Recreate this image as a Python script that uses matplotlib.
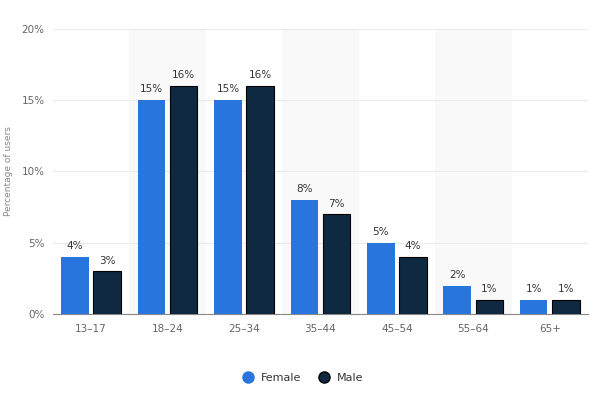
import matplotlib.pyplot as plt
from matplotlib.lines import Line2D
import numpy as np

categories = ["13-17", "18-24", "25-34", "35-44", "45-54", "55-64", "65+"]
female = [4, 15, 15, 8, 5, 2, 1]
male = [3, 16, 16, 7, 4, 1, 1]
yticks = [0, 5, 10, 15, 20]

c_f = "#2876dd"
c_m = "#0f2a40"

fig = plt.figure(figsize=(6, 3.95), dpi=100)
ax = fig.add_axes([0.088, 0.205, 0.892, 0.722])
x = np.arange(len(categories))
w = 0.36
gap = 0.03
for i in range(len(categories)):
    if i % 2 == 1:
        ax.axvspan(i - 0.5, i + 0.5, color="#f9f9f9", zorder=0, lw=0)
ax.bar(x - w/2 - gap, female, w, color=c_f, zorder=3)
ax.bar(x + w/2 + gap, male, w, color=c_m, edgecolor="black", linewidth=0.8, zorder=3)
for xi, v in zip(x, female):
    ax.text(xi - w/2 - gap, v + 0.4, f"{v}%", ha="center", va="bottom", fontsize=7.5, color="#333333")
for xi, v in zip(x, male):
    ax.text(xi + w/2 + gap, v + 0.4, f"{v}%", ha="center", va="bottom", fontsize=7.5, color="#333333")

ax.set_xlim(-0.5, len(categories) - 0.5)
ax.set_ylim(0, 20)
ax.set_yticks(yticks)
ax.set_yticklabels([f"{t}%" for t in yticks])
ax.set_xticks(x)
ax.set_xticklabels([c.replace("-", "–") for c in categories])
ax.grid(axis="y", color="#ebebeb", lw=0.8, zorder=1)
ax.set_axisbelow(True)
for s in ["top", "right", "left"]:
    ax.spines[s].set_visible(False)
ax.spines["bottom"].set_color("#888888")
ax.tick_params(axis="both", length=0, labelsize=7.5, colors="#666666", pad=6)
ax.tick_params(axis="x", pad=7)
ax.set_ylabel("Percentage of users", fontsize=6.5, color="#888888", labelpad=6)

handles = [Line2D([], [], marker="o", ls="", color=c_f, markersize=8, label="Female"),
           Line2D([], [], marker="o", ls="", color=c_m, markeredgecolor="black", markersize=8, label="Male")]
fig.legend(handles=handles, loc="center", bbox_to_anchor=(0.5, 0.043), ncol=2, frameon=False,
           fontsize=8, handletextpad=0.2, columnspacing=1.0, labelcolor="#333333")

fig.savefig("out.png", dpi=100)
